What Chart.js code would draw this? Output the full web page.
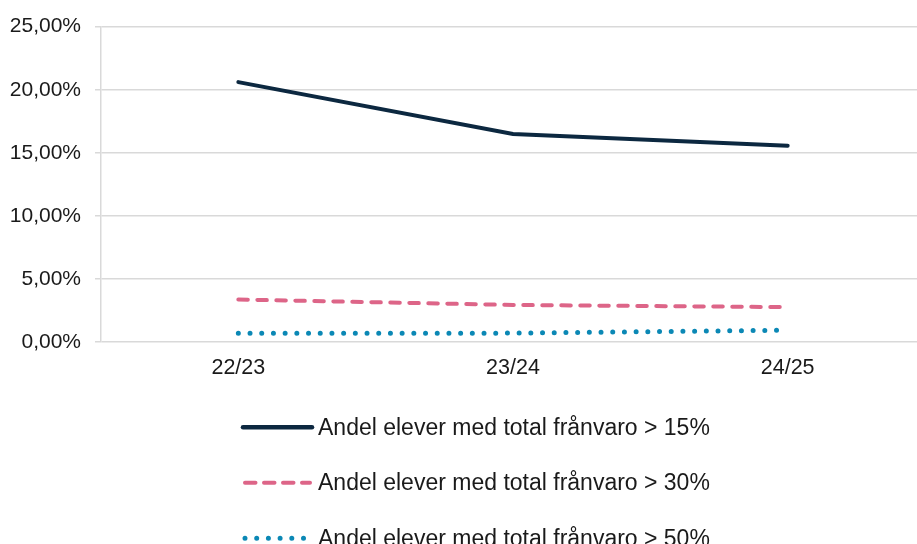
<!DOCTYPE html>
<html>
<head>
<meta charset="utf-8">
<script src="https://cdn.jsdelivr.net/npm/chart.js@4"></script>
<style>
  html, body { margin: 0; padding: 0; background: #ffffff; overflow: hidden; }
  #wrap { width: 917px; height: 544px; overflow: hidden; position: relative; }
  canvas { display: block; }
</style>
</head>
<body>
<div id="wrap"><canvas id="c" width="930" height="544"></canvas></div>
<script>
const categories = ['22/23', '23/24', '24/25'];
const seriesNames = [
  'Andel elever med total frånvaro > 15%',
  'Andel elever med total frånvaro > 30%',
  'Andel elever med total frånvaro > 50%'
];
const over15 = [20.6, 16.5, 15.57];
const over30 = [3.38, 2.95, 2.78];
const over50 = [0.70, 0.72, 0.95];
const yTicks = [0, 5, 10, 15, 20, 25];

const FONT = '"Liberation Sans", Arial, sans-serif';
const TEXT = '#1a1a1a';

const legendPlugin = {
  id: 'customLegend',
  afterDraw(chart) {
    const ctx = chart.ctx;
    const area = chart.chartArea;
    const x0 = 243, len = 69, textX = 318;
    chart.data.datasets.forEach((ds, i) => {
      const y = area.bottom + 85 + i * 55.5;
      ctx.save();
      ctx.strokeStyle = ds.borderColor;
      ctx.lineWidth = ds.legendWidth || ds.borderWidth;
      ctx.lineCap = ds.borderCapStyle || 'butt';
      ctx.setLineDash(ds.legendDash || ds.borderDash || []);
      ctx.beginPath();
      ctx.moveTo(x0 + (ds.legendInset || 0), y);
      ctx.lineTo(x0 + (ds.legendLen || len), y);
      ctx.stroke();
      ctx.setLineDash([]);
      ctx.fillStyle = TEXT;
      ctx.font = '23px ' + FONT;
      ctx.textBaseline = 'middle';
      ctx.textAlign = 'left';
      ctx.fillText(ds.label, textX, y + 1);
      ctx.restore();
    });
  }
};

new Chart(document.getElementById('c'), {
  type: 'line',
  data: {
    labels: categories,
    datasets: [
      {
        label: seriesNames[0],
        data: over15,
        borderColor: '#0c2840',
        borderWidth: 4,
        borderCapStyle: 'round',
        legendWidth: 4.5,
        pointRadius: 0,
        tension: 0,
        fill: false
      },
      {
        label: seriesNames[1],
        data: over30,
        borderColor: '#dd6588',
        borderWidth: 4,
        borderCapStyle: 'round',
        borderDash: [9.5, 9.5],
        legendDash: [10.5, 8.5],
        legendInset: 2,
        legendLen: 67,
        pointRadius: 0,
        tension: 0,
        fill: false
      },
      {
        label: seriesNames[2],
        data: over50,
        borderColor: '#0b88b5',
        borderWidth: 5,
        borderCapStyle: 'round',
        borderDash: [0, 11.7],
        legendInset: 2,
        legendLen: 62,
        pointRadius: 0,
        tension: 0,
        fill: false
      }
    ]
  },
  options: {
    responsive: false,
    devicePixelRatio: 1,
    animation: false,
    layout: { padding: { left: 0, right: 5, top: 24, bottom: 150 } },
    plugins: {
      legend: { display: false },
      tooltip: { enabled: false }
    },
    scales: {
      x: {
        offset: true,
        grid: { display: false, drawTicks: false },
        border: { display: false },
        ticks: {
          color: TEXT,
          font: { family: FONT, size: 21.5 },
          padding: 13,
          maxRotation: 0
        }
      },
      y: {
        min: 0,
        max: 25,
        afterBuildTicks(scale) {
          scale.ticks = yTicks.map(v => ({ value: v }));
        },
        afterFit(scale) {
          scale.width = 101;
        },
        grid: {
          color: '#d9d9d9',
          lineWidth: 1.5,
          tickLength: 6,
          drawTicks: true
        },
        border: { display: true, color: '#d9d9d9', width: 1.5 },
        ticks: {
          color: TEXT,
          font: { family: FONT, size: 21 },
          padding: 14,
          callback: v => v.toFixed(2).replace('.', ',') + '%'
        }
      }
    }
  },
  plugins: [legendPlugin]
});
</script>
</body>
</html>
